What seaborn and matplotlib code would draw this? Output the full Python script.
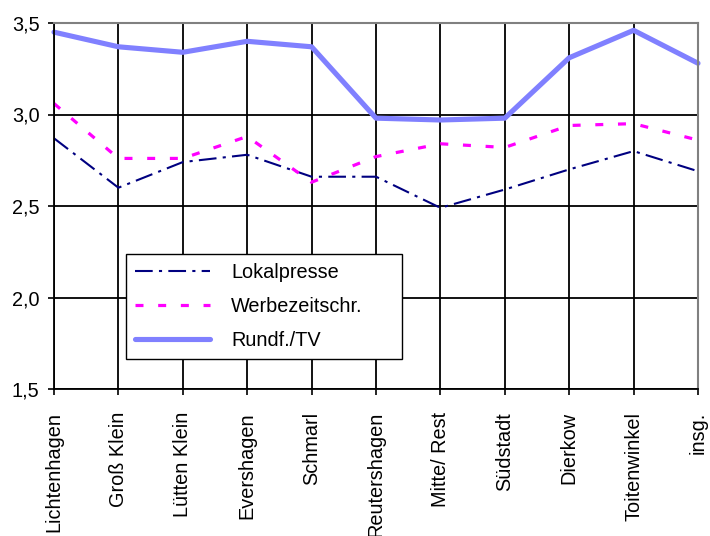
import matplotlib
matplotlib.use("Agg")
import matplotlib.pyplot as plt
import seaborn as sns
import pandas as pd

# Stadtteile (x-axis categories)
stadtteile = ["Lichtenhagen", "Groß Klein", "Lütten Klein", "Evershagen", "Schmarl",
              "Reutershagen", "Mitte/ Rest", "Südstadt", "Dierkow", "Toitenwinkel", "insg."]

# Mittelwerte je Medium
lokalpresse = [2.87, 2.60, 2.74, 2.78, 2.66, 2.66, 2.49, 2.59, 2.70, 2.80, 2.69]
werbezeitschr = [3.06, 2.76, 2.76, 2.88, 2.63, 2.77, 2.84, 2.82, 2.94, 2.95, 2.86]
rundf_tv = [3.45, 3.37, 3.34, 3.40, 3.37, 2.98, 2.97, 2.98, 3.31, 3.46, 3.28]

serien = ["Lokalpresse", "Werbezeitschr.", "Rundf./TV"]
y_ticks = [1.5, 2.0, 2.5, 3.0, 3.5]
y_ticklabels = ["1,5", "2,0", "2,5", "3,0", "3,5"]

df = pd.concat([
    pd.DataFrame({"Stadtteil": stadtteile, "Wert": werte, "Medium": name})
    for name, werte in zip(serien, [lokalpresse, werbezeitschr, rundf_tv])
], ignore_index=True)

sns.set_theme(style="white")
plt.rcParams["font.family"] = ["Liberation Sans", "DejaVu Sans"]
plt.rcParams["text.color"] = "black"
plt.rcParams["xtick.color"] = "black"
plt.rcParams["ytick.color"] = "black"

fig = plt.figure(figsize=(7.10, 5.36), dpi=100)
ax = fig.add_axes([54 / 710, 1 - 389 / 536, 644 / 710, 366 / 536])

palette = {"Lokalpresse": "#000080", "Werbezeitschr.": "#FF00FF", "Rundf./TV": "#8080FF"}
sizes = {"Lokalpresse": 1.5, "Werbezeitschr.": 2.3, "Rundf./TV": 3.7}
dashes = {"Lokalpresse": (8.5, 3.0, 1.5, 3.0), "Werbezeitschr.": (2.5, 4.6), "Rundf./TV": ""}

sns.lineplot(data=df, x="Stadtteil", y="Wert", hue="Medium", size="Medium",
             style="Medium", palette=palette, sizes=sizes, dashes=dashes,
             hue_order=serien, size_order=serien, style_order=serien,
             sort=False, ax=ax, legend="full", clip_on=False)

ax.set_xlim(0, len(stadtteile) - 1)
ax.set_ylim(1.5, 3.5)
ax.set_xticks(range(len(stadtteile)))
ax.set_xticklabels(stadtteile, rotation=90, fontsize=14.3, color="black")
ax.set_yticks(y_ticks)
ax.set_yticklabels(y_ticklabels, fontsize=14.3, color="black")
ax.set_xlabel("")
ax.set_ylabel("")

ax.grid(True, color="black", linewidth=1.3)
ax.set_axisbelow(True)
ax.tick_params(axis="both", which="major", direction="out", length=4.5, width=1.2,
               color="black", left=True, bottom=True, labelcolor="black")
ax.tick_params(axis="x", pad=12)
ax.tick_params(axis="y", pad=6)

for side in ["left", "bottom"]:
    ax.spines[side].set_color("black")
    ax.spines[side].set_linewidth(1.3)
for side in ["top", "right"]:
    ax.spines[side].set_color("#808080")
    ax.spines[side].set_linewidth(1.5)

handles, labels = ax.get_legend_handles_labels()
leg = ax.legend(handles, labels, loc="upper left",
                bbox_to_anchor=(0.112, 0.071, 0.429, 0.298), mode="expand",
                fontsize=14.3, frameon=True, fancybox=False, edgecolor="black",
                framealpha=1, handlelength=3.75, handletextpad=1.1,
                labelspacing=0.75, borderpad=0.45, borderaxespad=0)
leg.get_frame().set_linewidth(1.0)
for txt in leg.get_texts():
    txt.set_color("black")

fig.savefig("out.png", dpi=100)
